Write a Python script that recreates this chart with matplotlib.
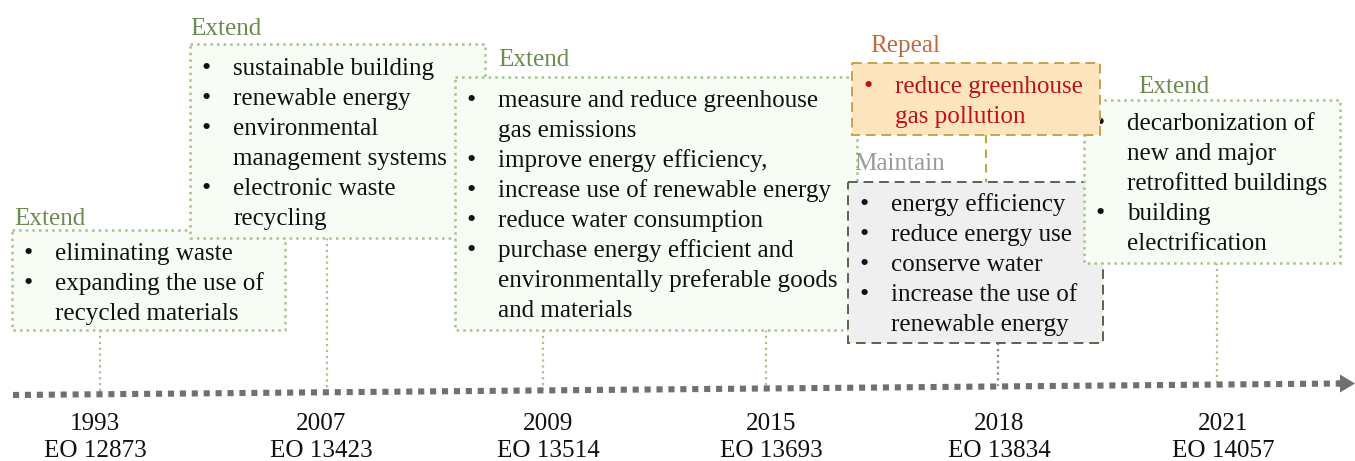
import matplotlib
matplotlib.use("Agg")
import matplotlib.pyplot as plt
from matplotlib.patches import Rectangle, Polygon

# ---------------- data ----------------
years = ["1993", "2007", "2009", "2015", "2018", "2021"]
eo_numbers = ["EO 12873", "EO 13423", "EO 13514", "EO 13693", "EO 13834", "EO 14057"]

actions = ["Extend", "Extend", "Extend", "Repeal", "Maintain", "Extend"]

items_1993 = ["eliminating waste", "expanding the use of\nrecycled materials"]
items_2007 = ["sustainable building", "renewable energy",
              "environmental\nmanagement systems", "electronic waste\nrecycling"]
items_2009 = ["measure and reduce greenhouse\ngas emissions", "improve energy efficiency,",
              "increase use of renewable energy", "reduce water consumption",
              "purchase energy efficient and\nenvironmentally preferable goods\nand materials"]
items_repeal = ["reduce greenhouse\ngas pollution"]
items_2018 = ["energy efficiency", "reduce energy use", "conserve water",
              "increase the use of\nrenewable energy"]
items_2021 = ["decarbonization of\nnew and major\nretrofitted buildings",
              "building\nelectrification"]

# ---------------- layout ----------------
W, H = 1355, 461
fig = plt.figure(figsize=(W / 100, H / 100), dpi=100)
ax = fig.add_axes([0, 0, 1, 1])
ax.set_xlim(0, W)
ax.set_ylim(H, 0)
ax.axis("off")

FONT = "Liberation Serif"
FS = 18.1
STEP = 30

GREEN_LBL = "#6a8c4c"
GREEN_EDGE = "#a3c48a"
GREEN_FILL = "#f7fcf4"
TL_COLOR = "#707070"

# timeline (slightly slanted as in reference)
tl_x0, tl_y0 = 13, 395
tl_x1, tl_y1 = 1340, 383.5


def tl_y(x):
    return tl_y0 + (tl_y1 - tl_y0) * (x - tl_x0) / (tl_x1 - tl_x0)


def box(x0, y0, x1, y1, fc, ec, ls, lw, z):
    ax.add_patch(Rectangle((x0, y0), x1 - x0, y1 - y0, facecolor=fc, edgecolor=ec,
                           linestyle=ls, linewidth=lw, zorder=z))


def bullets(items, x0, top, z, color="#111111", bcolor="#111111"):
    y = top + 30
    for it in items:
        lines = it.split("\n")
        ax.text(x0 + 16, y, "•", fontsize=FS * 1.05, family=FONT, color=bcolor,
                ha="center", va="baseline", zorder=z)
        for ln in lines:
            ax.text(x0 + 43, y, ln, fontsize=FS, family=FONT, color=color,
                    ha="left", va="baseline", zorder=z)
            y += STEP


def label(x, y, s, color):
    ax.text(x, y, s, fontsize=FS, family=FONT, color=color, ha="left",
            va="baseline", zorder=20)


# connectors to timeline
conn = [(100, 330, GREEN_EDGE, ":"), (327, 238, GREEN_EDGE, ":"),
        (543, 330, GREEN_EDGE, ":"), (766, 330, GREEN_EDGE, ":"),
        (998, 343, "#888888", ":"), (1217, 263, GREEN_EDGE, ":")]
for cx, cy, col, ls in conn:
    ax.plot([cx, cx], [cy, tl_y(cx)], color=col, linestyle=ls, linewidth=1.6, zorder=1)

# Repeal -> Maintain connector
ax.plot([986, 986], [135, 182], color="#c9a24e", linestyle=(0, (4, 3)), linewidth=1.5, zorder=1)

# timeline line + arrow
ax.plot([tl_x0, tl_x1], [tl_y0, tl_y1], color=TL_COLOR, linewidth=4.4,
        linestyle=(0, (1, 0.95)), dash_capstyle="butt", zorder=2)
ax.add_patch(Polygon([[1337, tl_y1 - 3], [1340, tl_y1 - 3], [1340, tl_y1 - 9],
                      [1355, tl_y1], [1340, tl_y1 + 9], [1340, tl_y1 + 3], [1337, tl_y1 + 3]],
                     closed=True, facecolor=TL_COLOR, edgecolor="none", zorder=2))

# boxes (z-order as in reference)
box(12, 230, 285, 330, GREEN_FILL, GREEN_EDGE, ":", 1.8, 3)
box(190, 44, 485, 238, GREEN_FILL, GREEN_EDGE, ":", 1.8, 4)
box(455, 77, 857, 330, GREEN_FILL, GREEN_EDGE, ":", 1.8, 5)
box(848, 182, 1103, 343, "#efefef", "#56664c", (0, (5, 3)), 1.4, 6)
box(1084, 100, 1340, 263, GREEN_FILL, GREEN_EDGE, ":", 1.8, 7)
box(852, 63, 1100, 135, "#fde6bd", "#c9a24e", (0, (5, 3)), 1.4, 8)

bullets(items_1993, 12, 230, 3.5)
bullets(items_2007, 190, 45, 4.5)
bullets(items_2009, 455, 77, 5.5)
bullets(items_2018, 848, 181, 6.5)
bullets(items_2021, 1084, 100, 7.5)
bullets(items_repeal, 852, 63, 8.5, color="#c0101a", bcolor="#c0101a")

# action labels
label(14, 225, actions[0], GREEN_LBL)
label(190, 35, actions[1], GREEN_LBL)
label(498, 66, actions[2], GREEN_LBL)
label(870, 52, actions[3], "#c06a3a")
label(854, 170, actions[4], "#9a9a9a")
label(1138, 93, actions[5], GREEN_LBL)

# year / EO labels
label_x = [95, 321, 548, 771, 999, 1223]
for lx, yr, eo in zip(label_x, years, eo_numbers):
    ax.text(lx, 430, yr, fontsize=FS, family=FONT, ha="center", va="baseline", color="#111111")
    ax.text(lx, 457, eo, fontsize=FS, family=FONT, ha="center", va="baseline", color="#111111")

fig.savefig("out.png", dpi=100)
